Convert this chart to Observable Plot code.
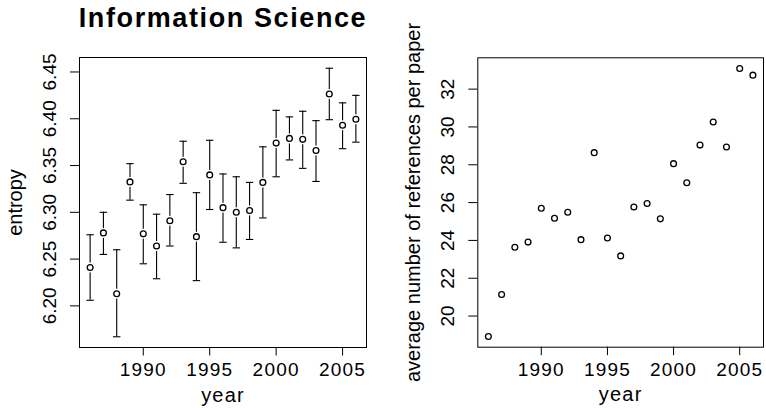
<!DOCTYPE html>
<html>
<head>
<meta charset="utf-8">
<script src="https://cdn.jsdelivr.net/npm/d3@7"></script>
<script src="https://cdn.jsdelivr.net/npm/@observablehq/plot@0.6"></script>
<style>
  html, body { margin: 0; padding: 0; background: #fff; }
  #wrap { position: relative; width: 766px; height: 408px; background: #fff; overflow: hidden; }
  #wrap > div, #wrap > svg { position: absolute; top: 0; }
  .hl text { letter-spacing: 1.2px; }
  .tl text { letter-spacing: 1.6px; }
</style>
</head>
<body>
<div id="wrap"></div>
<script>
// ---- data ----
const years = [1986, 1987, 1988, 1989, 1990, 1991, 1992, 1993, 1994, 1995, 1996,
               1997, 1998, 1999, 2000, 2001, 2002, 2003, 2004, 2005, 2006];
const entropy = [6.241, 6.278, 6.213, 6.3325, 6.277, 6.264, 6.291, 6.354, 6.274, 6.340, 6.305,
                 6.300, 6.302, 6.332, 6.374, 6.379, 6.378, 6.366, 6.4265, 6.393, 6.3995];
const entropyLow = [6.206, 6.255, 6.167, 6.313, 6.245, 6.229, 6.264, 6.331, 6.227, 6.303, 6.268,
                    6.262, 6.271, 6.294, 6.338, 6.356, 6.347, 6.333, 6.399, 6.368, 6.375];
const entropyHigh = [6.276, 6.300, 6.260, 6.352, 6.308, 6.298, 6.319, 6.376, 6.321, 6.377, 6.341,
                     6.338, 6.332, 6.370, 6.409, 6.402, 6.408, 6.398, 6.454, 6.417, 6.425];
const refsPerPaper = [18.92, 21.14, 23.64, 23.91, 25.70, 25.17, 25.49, 24.04, 28.64, 24.13, 23.18,
                      25.77, 25.95, 25.14, 28.06, 27.05, 29.04, 30.26, 28.94, 33.09, 32.74];
const xTicks = [1990, 1995, 2000, 2005];
const yTicksLeft = [6.20, 6.25, 6.30, 6.35, 6.40, 6.45];
const yTicksRight = [20, 22, 24, 26, 28, 30, 32];
const titleText = "Information Science";
const xLabel = "year";
const yLabelLeft = "entropy";
const yLabelRight = "average number of references per paper";

// ---- helpers ----
const FONT = "'Liberation Sans', Arial, Helvetica, sans-serif";
function rExtend(lo, hi) { const d = (hi - lo) * 0.04; return [lo - d, hi + d]; }
const capSymbol = {
  draw(ctx, size) {
    const r = Math.sqrt(size / Math.PI);
    ctx.moveTo(-r, 0); ctx.lineTo(r, 0);
  }
};

const rowsL = years.map((y, i) => ({year: y, v: entropy[i], lo: entropyLow[i], hi: entropyHigh[i]}));
const rowsR = years.map((y, i) => ({year: y, v: refsPerPaper[i]}));

const xDomain = rExtend(d3.min(years), d3.max(years));
const yDomL = rExtend(d3.min(entropyLow), d3.max(entropyHigh));
const yDomR = rExtend(d3.min(refsPerPaper), d3.max(refsPerPaper));

function commonAxes(yTicks, yFmt, yLab, yLabDx) {
  return [
    Plot.frame({stroke: "black", strokeWidth: 1}),
    Plot.axisX(xTicks, {tickSize: 8.5, tickFormat: () => "", label: null, stroke: "black"}),
    Plot.axisY(yTicks, {tickSize: 9, tickFormat: () => "", label: null, stroke: "black"}),
    Plot.text(xTicks, {x: d => d, text: d => String(d), frameAnchor: "bottom", dy: 15,
      lineAnchor: "top", fontSize: 19, fill: "black", className: "hl"}),
    Plot.text([xLabel], {text: d => d, frameAnchor: "bottom", dy: 54, lineAnchor: "bottom",
      fontSize: 20, fill: "black", className: "hl"}),
    Plot.text(yTicks, {y: d => d, text: yFmt, frameAnchor: "left", dx: -24, rotate: -90,
      textAnchor: "middle", lineAnchor: "bottom", fontSize: 19, fill: "black"}),
    Plot.text([yLab], {text: d => d, frameAnchor: "left", dx: yLabDx, rotate: -90,
      textAnchor: "middle", lineAnchor: "bottom", fontSize: 20, fill: "black"})
  ];
}

const left = Plot.plot({
  width: 383, height: 408,
  marginLeft: 79, marginRight: 17, marginTop: 57, marginBottom: 61,
  style: {fontFamily: FONT, background: "white", color: "black", overflow: "visible"},
  x: {domain: xDomain, axis: null},
  y: {domain: yDomL, axis: null},
  marks: [
    ...commonAxes(yTicksLeft, d => d.toFixed(2), yLabelLeft, -58),
    Plot.ruleX(rowsL, {x: "year", y1: "lo", y2: "hi", stroke: "black", strokeWidth: 1.1}),
    Plot.dot(rowsL, {x: "year", y: "hi", symbol: capSymbol, r: 3.7, stroke: "black", strokeWidth: 1.1, fill: "none"}),
    Plot.dot(rowsL, {x: "year", y: "lo", symbol: capSymbol, r: 3.7, stroke: "black", strokeWidth: 1.1, fill: "none"}),
    Plot.dot(rowsL, {x: "year", y: "v", r: 5, fill: "white", stroke: "none"}),
    Plot.dot(rowsL, {x: "year", y: "v", r: 2.9, fill: "white", stroke: "black", strokeWidth: 1.3}),
    Plot.text([titleText], {text: d => d, frameAnchor: "top", dy: -31, lineAnchor: "bottom",
      fontSize: 27, fontWeight: "bold", fill: "black", className: "tl"})
  ]
});

const right = Plot.plot({
  width: 383, height: 408,
  marginLeft: 94.3, marginRight: 3, marginTop: 57.3, marginBottom: 61.3,
  style: {fontFamily: FONT, background: "white", color: "black", overflow: "visible"},
  x: {domain: xDomain, axis: null},
  y: {domain: yDomR, axis: null},
  marks: [
    ...commonAxes(yTicksRight, d => String(d), yLabelRight, -58.3),
    Plot.dot(rowsR, {x: "year", y: "v", r: 2.9, fill: "none", stroke: "black", strokeWidth: 1.3})
  ]
});

const wrap = document.getElementById("wrap");
left.style.left = "0px";
right.style.left = "383px";
wrap.appendChild(left);
wrap.appendChild(right);
</script>
</body>
</html>
